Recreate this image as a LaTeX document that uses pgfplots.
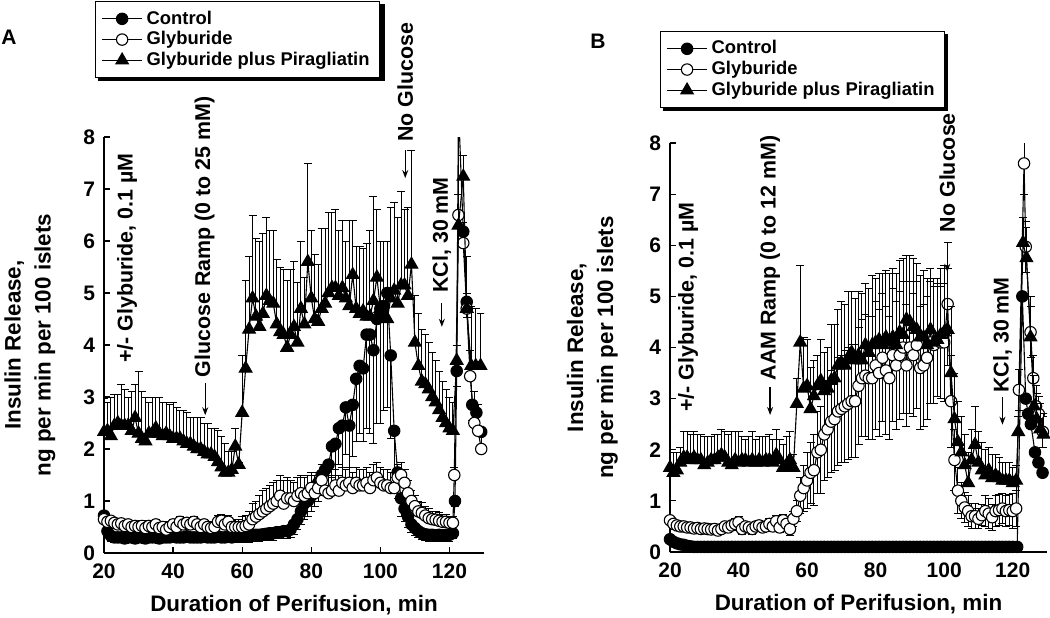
\documentclass[border=0pt]{standalone}
\usepackage{pgfplots}
\pgfplotsset{compat=1.18}
\usepackage{fontspec}
\setmainfont{Liberation Sans}
\usetikzlibrary{arrows.meta}
\newcommand\ftick{\bfseries\fontsize{10.5}{11}\selectfont}
\newcommand\flab{\bfseries\fontsize{11.2}{15}\selectfont}
\newcommand\fann{\bfseries\fontsize{10.7}{12}\selectfont}
\newcommand\fleg{\bfseries\fontsize{9.2}{10.5}\selectfont}
\pgfplotsset{
  myaxis/.style={
    scale only axis, anchor=south west,
    xmin=20, xmax=130, ymin=0, ymax=8,
    axis x line*=bottom, axis y line*=left,
    axis line style={line width=0.7pt},
    tick align=inside, major tick length=3pt,
    tick style={line width=0.6pt, black},
    xtick={20,40,60,80,100,120}, ytick={0,1,2,3,4,5,6,7,8},
    /pgf/number format/assume math mode=true,
    ticklabel style={font=\ftick},
    xticklabel style={yshift=-2pt},
    yticklabel style={xshift=-1pt},
    xlabel={Duration of Perifusion, min},
    xlabel style={font=\flab, at={(axis description cs:0.5,0)}, anchor=center, yshift=-26pt},
    ylabel={Insulin Release,\\ng per min per 100 islets},
    clip mode=individual,
    legend cell align=left,
    legend image code/.code={\draw[mark repeat=2,mark phase=2,##1] plot coordinates {(0pt,0pt) (10pt,0pt) (20pt,0pt)};},
    legend style={draw=black, line width=0.7pt, fill=white, font=\fleg, anchor=north west,
      inner xsep=3pt, inner ysep=2.5pt, row sep=-1.8pt},
  },
  ctrl/.style={black, line width=0.55pt, mark=*, mark size=2.85pt, mark options={solid, fill=black}},
  glyb/.style={black, line width=0.55pt, mark=*, mark size=2.85pt, mark options={solid, fill=white}},
  pira/.style={black, line width=0.55pt, mark=triangle*, mark size=3.6pt, mark options={solid, fill=black}},
  ebar/.style={error bars/y explicit, error bars/y dir=#1,
    error bars/error bar style={line width=0.5pt, black},
    error bars/error mark options={rotate=90, mark size=2pt, line width=0.5pt, black}},
}
\begin{document}
\begin{tikzpicture}[x=1pt,y=1pt]
\useasboundingbox (0,0) rectangle (525,308.5);
% legend shadows (drawn first, behind the legends)
\fill[black] (49.2,268.0) rectangle (192.6,306.4);
\fill[black] (331.6,253.0) rectangle (474.2,291.4);
\node[font=\bfseries\fontsize{10.5}{12}\selectfont] at (4.5,290) {A};
\node[font=\bfseries\fontsize{10.5}{12}\selectfont] at (299,288) {B};
% ================= PANEL A =================
\begin{axis}[myaxis, at={(52pt,32pt)}, width=190pt, height=208pt,
  ylabel style={font=\flab, align=center, at={(axis description cs:-0.195,0.5)}, anchor=center},
  legend style={at={(axis description cs:-0.024,1.327)}}]
\addlegendimage{ctrl}\addlegendentry{Control}
\addlegendimage{glyb}\addlegendentry{Glyburide}
\addlegendimage{pira}\addlegendentry{Glyburide plus Piragliatin}
\addplot[ctrl, forget plot, ebar=minus] table[x=t,y=v,y error=e] {
t v e
20 0.72 0.05
21 0.42 0.1
22 0.33 0.1
23 0.3 0.1
24 0.3 0.1
25 0.3 0.1
26 0.28 0.1
27 0.3 0.1
28 0.3 0.1
29 0.28 0.1
30 0.3 0.1
31 0.3 0.1
32 0.28 0.1
33 0.3 0.1
34 0.3 0.1
35 0.3 0.1
36 0.28 0.1
37 0.3 0.1
38 0.3 0.1
39 0.3 0.1
40 0.32 0.1
41 0.3 0.1
42 0.3 0.1
43 0.3 0.1
44 0.32 0.1
45 0.3 0.1
46 0.3 0.1
47 0.3 0.1
48 0.3 0.1
49 0.32 0.1
50 0.3 0.1
51 0.3 0.1
52 0.3 0.1
53 0.32 0.1
54 0.3 0.1
55 0.3 0.1
56 0.32 0.1
57 0.3 0.1
58 0.32 0.1
59 0.32 0.12
60 0.33 0.12
61 0.33 0.12
62 0.33 0.12
63 0.35 0.12
64 0.35 0.12
65 0.35 0.12
66 0.36 0.12
67 0.37 0.12
68 0.38 0.12
69 0.38 0.13
70 0.4 0.13
71 0.4 0.13
72 0.42 0.14
73 0.42 0.14
74 0.45 0.15
75 0.55 0.2
76 0.65 0.2
77 0.8 0.25
78 0.95 0.3
79 1.0 0.3
80 1.1 0.3
81 1.2 0.3
82 1.35 0.35
83 1.5 0.4
84 1.6 0.45
85 1.7 0.5
86 2.05 0.6
87 2.1 0.6
88 2.4 0.7
89 2.45 0.8
90 2.8 0.9
91 2.45 0.8
92 2.85 1.0
93 3.35 1.2
94 3.6 1.3
95 3.55 1.4
96 4.2 1.8
97 4.2 1.9
98 3.9 1.8
99 4.5 2.0
100 4.7 2.2
101 4.75 2.0
102 5.0 2.2
103 3.8 1.6
104 2.35 0.9
105 1.55 0.5
106 1.05 0.35
107 0.85 0.25
108 0.7 0.2
109 0.55 0.15
110 0.48 0.15
111 0.42 0.12
112 0.38 0.12
113 0.36 0.12
114 0.35 0.12
115 0.35 0.12
116 0.34 0.12
117 0.35 0.12
118 0.34 0.12
119 0.35 0.12
120 0.35 0.12
121 0.38 0.1
121.6 1.0 0.1
122.1 3.5 0.3
122.6 8.6 0.5
124 6.18 0.3
125 4.83 0.3
126.6 2.85 0.3
127.8 2.7 0.3
129.2 2.33 0.3
};
\addplot[glyb, forget plot, ebar=plus] table[x=t,y=v,y error=e] {
t v e
20 0.65 0.08
21 0.6 0.08
22 0.62 0.08
23 0.58 0.08
24 0.55 0.08
25 0.57 0.08
26 0.52 0.08
27 0.55 0.08
28 0.5 0.1
29 0.52 0.08
30 0.5 0.1
31 0.52 0.1
32 0.48 0.1
33 0.52 0.1
34 0.5 0.1
35 0.55 0.1
36 0.48 0.1
37 0.5 0.1
38 0.45 0.1
39 0.5 0.1
40 0.55 0.1
41 0.5 0.1
42 0.6 0.1
43 0.55 0.1
44 0.58 0.1
45 0.55 0.1
46 0.6 0.1
47 0.55 0.1
48 0.5 0.1
49 0.55 0.1
50 0.5 0.1
51 0.48 0.1
52 0.5 0.1
53 0.6 0.12
54 0.62 0.12
55 0.55 0.12
56 0.6 0.12
57 0.5 0.12
58 0.5 0.15
59 0.5 0.15
60 0.5 0.2
61 0.52 0.2
62 0.55 0.25
63 0.65 0.3
64 0.7 0.3
65 0.75 0.35
66 0.8 0.4
67 0.85 0.4
68 0.9 0.4
69 0.95 0.4
70 1.0 0.4
71 1.1 0.4
72 0.95 0.45
73 1.05 0.4
74 1.05 0.35
75 1.0 0.35
76 1.1 0.35
77 1.15 0.35
78 1.1 0.35
79 1.15 0.35
80 1.25 0.3
81 1.15 0.35
82 1.25 0.3
83 1.4 0.3
84 1.2 0.3
85 1.15 0.35
86 1.2 0.3
87 1.3 0.3
88 1.2 0.3
89 1.35 0.3
90 1.3 0.3
91 1.35 0.3
92 1.25 0.3
93 1.35 0.3
94 1.3 0.3
95 1.3 0.3
96 1.35 0.3
97 1.25 0.3
98 1.4 0.3
99 1.45 0.3
100 1.35 0.3
101 1.3 0.3
102 1.3 0.3
103 1.25 0.3
104 1.25 0.3
105 1.45 0.25
106 1.5 0.25
107 1.35 0.25
108 1.15 0.25
109 1.0 0.2
110 0.9 0.2
111 0.8 0.2
112 0.77 0.2
113 0.72 0.18
114 0.67 0.18
115 0.65 0.15
116 0.64 0.15
117 0.62 0.15
118 0.6 0.15
119 0.6 0.15
120 0.58 0.12
121 0.58 0.12
121.4 1.5 0.15
122.6 6.5 1.8
124 5.96 0.4
125 4.7 0.3
126 3.4 0.5
127.2 2.5 0.6
128.3 2.35 0.5
129.2 2.0 0.35
};
\addplot[pira, forget plot, ebar=plus] table[x=t,y=v,y error=e] {
t v e
20 2.33 0.65
21 2.35 0.55
22 2.25 0.75
23 2.45 0.6
24 2.5 0.55
25 2.45 0.8
26 2.45 0.7
27 2.45 0.55
28 2.35 0.75
29 2.6 0.65
30 2.3 1.2
31 2.2 0.9
32 2.15 0.85
33 2.3 0.6
34 2.3 0.7
35 2.4 0.6
36 2.3 0.7
37 2.25 0.65
38 2.3 0.6
39 2.25 0.6
40 2.2 0.7
41 2.2 0.6
42 2.2 0.55
43 2.15 0.6
44 2.1 0.6
45 2.1 0.5
46 2.05 0.55
47 2.0 0.6
48 2.0 0.6
49 1.95 0.55
50 1.9 0.6
51 1.9 0.5
52 1.85 0.55
53 1.75 0.6
54 1.65 0.6
55 1.55 0.55
56 1.55 0.4
57 1.6 0.35
58 2.05 0.35
59 1.7 0.05
60 2.7 1.1
61 3.55 1.7
62 4.3 1.4
63 4.9 1.6
64 4.55 1.5
65 4.35 1.65
66 4.6 1.55
67 4.95 1.5
68 4.85 1.35
69 4.8 1.4
70 4.4 1.25
71 4.25 1.25
72 4.2 1.25
73 3.95 1.3
74 4.2 1.25
75 4.35 1.25
76 4.05 1.15
77 4.7 1.3
78 4.4 0.9
79 5.6 1.9
80 4.9 1.3
81 4.5 1.25
82 4.45 1.1
83 4.7 1.55
84 4.8 1.45
85 5.0 1.55
86 5.1 1.45
87 5.1 1.5
88 4.95 1.25
89 5.1 1.3
90 4.9 1.1
91 4.75 1.65
92 5.35 1.05
93 4.7 1.2
94 4.6 1.3
95 4.65 1.2
96 4.55 1.4
97 4.55 1.65
98 4.85 2.0
99 5.3 1.3
100 4.7 1.3
101 4.55 1.45
102 4.5 1.5
103 4.9 1.75
104 5.05 1.7
105 4.8 1.65
106 5.15 1.8
107 5.15 1.45
108 4.95 1.7
109 5.55 2.2
110 4.05 0.9
111 3.6 1.0
112 3.3 1.0
113 3.25 0.95
114 3.15 0.9
115 3.0 0.85
116 2.9 0.8
117 2.75 0.75
118 2.6 0.7
119 2.5 0.65
120 2.4 0.6
121 2.35 0.55
122.1 3.7 0.3
122.6 6.3 0.6
124 7.24 0.4
125 4.7 1.0
126.3 3.6 1.15
127.6 3.6 1.1
129 3.6 1.0
};
% annotations
\node[rotate=90, anchor=west, font=\fann, inner sep=0pt] at (axis cs:26.7,3.65) {+/- Glyburide, 0.1 µM};
\draw[-{Stealth[length=4pt,width=3pt]}, line width=0.6pt] (axis cs:49.3,3.27) -- (axis cs:49.3,2.65);
\node[rotate=90, anchor=west, font=\fann, inner sep=0pt] at (axis cs:49.1,3.37) {Glucose Ramp (0 to 25 mM)};
\draw[-{Stealth[length=4pt,width=3pt]}, line width=0.6pt] (axis cs:107.2,7.75) -- (axis cs:107.2,7.21);
\node[rotate=90, anchor=west, font=\fann, inner sep=0pt] at (axis cs:107.2,7.9) {No Glucose};
\draw[-{Stealth[length=4pt,width=3pt]}, line width=0.6pt] (axis cs:117.8,4.8) -- (axis cs:117.8,4.35);
\node[rotate=90, anchor=west, font=\fann, inner sep=0pt] at (axis cs:117.8,5.0) {KCl, 30 mM};
\end{axis}
% ================= PANEL B =================
\begin{axis}[myaxis, at={(335pt,32.5pt)}, width=188.5pt, height=204.5pt,
  ylabel style={font=\flab, align=center, at={(axis description cs:-0.206,0.5)}, anchor=center},
  legend style={at={(axis description cs:-0.027,1.274)}}]
\addlegendimage{ctrl}\addlegendentry{Control}
\addlegendimage{glyb}\addlegendentry{Glyburide}
\addlegendimage{pira}\addlegendentry{Glyburide plus Piragliatin}
\addplot[ctrl, forget plot] coordinates {
(20,0.25)(21,0.2)(22,0.17)(23,0.15)(24,0.14)(25,0.12)(26,0.11)(27,0.1)(28,0.1)(29,0.1)
(30,0.1)(31,0.1)(32,0.1)(33,0.1)(34,0.1)(35,0.1)(36,0.1)(37,0.1)(38,0.1)(39,0.1)
(40,0.1)(41,0.1)(42,0.1)(43,0.1)(44,0.1)(45,0.1)(46,0.1)(47,0.1)(48,0.1)(49,0.1)
(50,0.1)(51,0.1)(52,0.1)(53,0.1)(54,0.1)(55,0.1)(56,0.1)(57,0.1)(58,0.1)(59,0.1)
(60,0.1)(61,0.1)(62,0.1)(63,0.1)(64,0.1)(65,0.1)(66,0.1)(67,0.1)(68,0.1)(69,0.1)
(70,0.1)(71,0.1)(72,0.1)(73,0.1)(74,0.1)(75,0.1)(76,0.1)(77,0.1)(78,0.1)(79,0.1)
(80,0.1)(81,0.1)(82,0.1)(83,0.1)(84,0.1)(85,0.1)(86,0.1)(87,0.1)(88,0.1)(89,0.1)
(90,0.1)(91,0.1)(92,0.1)(93,0.1)(94,0.1)(95,0.1)(96,0.1)(97,0.1)(98,0.1)(99,0.1)
(100,0.1)(101,0.1)(102,0.1)(103,0.1)(104,0.1)(105,0.1)(106,0.1)(107,0.1)(108,0.1)(109,0.1)
(110,0.1)(111,0.1)(112,0.1)(113,0.1)(114,0.1)(115,0.1)(116,0.1)(117,0.1)(118,0.1)(119,0.1)
(120,0.1)(121.3,0.1)(122.8,5.0)(123.8,3.0)(124.5,2.7)(125.3,2.5)(126.5,1.95)(127.5,1.75)(128.7,1.55)
};
\addplot[glyb, forget plot, ebar=both] table[x=t,y=v,y error=e] {
t v e
20 0.62 0.08
21 0.55 0.08
22 0.52 0.08
23 0.5 0.08
24 0.5 0.08
25 0.48 0.08
26 0.48 0.08
27 0.46 0.08
28 0.47 0.08
29 0.45 0.08
30 0.46 0.08
31 0.45 0.08
32 0.44 0.08
33 0.45 0.08
34 0.42 0.08
35 0.45 0.08
36 0.5 0.08
37 0.48 0.1
38 0.52 0.1
39 0.55 0.1
40 0.58 0.12
41 0.45 0.1
42 0.5 0.1
43 0.48 0.1
44 0.45 0.1
45 0.5 0.1
46 0.52 0.1
47 0.48 0.1
48 0.5 0.1
49 0.55 0.1
50 0.5 0.1
51 0.6 0.12
52 0.48 0.1
53 0.62 0.12
54 0.55 0.12
55 0.45 0.12
56 0.65 0.15
57 0.8 0.2
58 1.1 0.35
59 1.25 0.45
60 1.4 0.55
61 1.55 0.6
62 1.6 0.7
63 1.95 0.8
64 2.0 0.85
65 2.3 0.9
66 2.4 0.95
67 2.55 1.0
68 2.6 1.0
69 2.75 1.05
70 2.8 1.05
71 2.85 1.1
72 2.9 1.1
73 2.95 1.1
74 2.95 1.1
75 3.25 1.15
76 3.4 1.15
77 3.45 1.2
78 3.4 1.2
79 3.4 1.2
80 3.65 1.25
81 3.5 1.25
82 3.8 1.25
83 3.55 1.25
84 3.4 1.2
85 3.85 1.3
86 3.65 1.25
87 3.85 1.25
88 4.0 1.3
89 3.65 1.2
90 4.0 1.3
91 3.85 1.2
92 4.05 1.25
93 3.6 1.2
94 3.65 1.2
95 3.8 1.2
96 4.1 1.2
97 4.05 1.15
98 4.15 1.1
99 4.1 1.1
100 4.1 1.15
101 4.85 1.2
102 2.95 0.9
103 1.8 0.6
104 1.2 0.45
105 1.0 0.35
106 0.87 0.3
107 0.8 0.3
108 0.7 0.25
109 0.7 0.25
110 0.65 0.2
111 0.72 0.2
112 0.8 0.3
113 0.75 0.3
114 0.68 0.25
115 0.8 0.3
116 0.82 0.3
117 0.85 0.3
118 0.8 0.3
119 0.82 0.3
120 0.8 0.35
121 0.85 0.35
121.8 3.17 0.4
123.3 7.6 0.6
123.8 5.97 0.5
125.2 4.3 0.5
126 3.4 0.45
126.8 2.85 0.4
127.6 2.7 0.35
128.8 2.35 0.3
};
\addplot[pira, forget plot, ebar=plus] table[x=t,y=v,y error=e] {
t v e
20 1.65 0.3
21 1.55 0.4
22 1.6 0.35
23 1.75 0.3
24 1.85 0.5
25 1.85 0.5
26 1.8 0.5
27 1.85 0.5
28 1.8 0.5
29 1.8 0.5
30 1.7 0.55
31 1.75 0.5
32 1.8 0.45
33 1.8 0.5
34 1.85 0.45
35 1.9 0.5
36 1.85 0.5
37 1.75 0.55
38 1.7 0.65
39 1.8 0.55
40 1.75 0.6
41 1.8 0.45
42 1.8 0.4
43 1.75 0.5
44 1.8 0.55
45 1.75 0.45
46 1.8 0.45
47 1.75 0.5
48 1.8 0.45
49 1.8 0.5
50 1.75 0.45
51 1.9 0.5
52 1.8 0.4
53 1.65 0.45
54 1.7 0.55
55 1.8 0.55
56 1.65 0.25
57 2.9 0.5
58 4.1 1.5
59 3.2 1.0
60 3.25 0.9
61 2.8 0.8
62 3.05 0.7
63 3.25 0.6
64 3.35 0.8
65 3.15 0.75
66 3.2 0.8
67 3.35 1.1
68 3.4 1.05
69 3.65 1.1
70 3.7 1.2
71 3.65 1.2
72 3.8 1.3
73 3.9 1.2
74 3.75 1.2
75 3.85 1.25
76 3.75 1.3
77 4.05 1.2
78 3.9 1.25
79 4.05 1.35
80 4.1 1.25
81 4.15 1.3
82 4.05 1.4
83 4.2 1.3
84 4.1 1.35
85 4.2 1.35
86 4.05 1.4
87 4.3 1.4
88 4.25 1.5
89 4.55 1.25
90 4.5 1.3
91 4.4 1.35
92 4.35 1.3
93 4.2 1.2
94 4.2 1.3
95 4.05 1.3
96 4.35 1.2
97 4.1 1.25
98 4.15 1.2
99 4.25 1.3
100 4.3 1.3
101 4.35 1.2
102 3.5 1.3
103 2.6 0.9
104 2.15 0.8
105 1.95 0.7
106 1.7 0.6
107 1.35 0.6
108 1.8 0.6
109 2.1 0.75
110 1.75 0.6
111 1.6 0.55
112 1.5 0.5
113 1.6 0.45
114 1.45 0.45
115 1.5 0.4
116 1.45 0.4
117 1.4 0.35
118 1.4 0.35
119 1.4 0.35
120 1.35 0.3
121 1.4 0.3
121.6 2.35 0.3
123 6.05 0.5
124 5.75 0.6
125.2 4.2 0.8
126.2 2.85 0.6
127 2.6 0.5
128 2.4 0.5
129 2.3 0.4
};
\node[rotate=90, anchor=west, font=\fann, inner sep=0pt] at (axis cs:25.3,2.74) {+/- Glyburide, 0.1 µM};
\draw[-{Stealth[length=4pt,width=3pt]}, line width=0.6pt] (axis cs:49.2,3.23) -- (axis cs:49.2,2.68);
\node[rotate=90, anchor=west, font=\fann, inner sep=0pt] at (axis cs:49.2,3.35) {AAM Ramp (0 to 12 mM)};
\draw[-{Stealth[length=4pt,width=3pt]}, line width=0.6pt] (axis cs:100.9,6.0) -- (axis cs:100.9,5.48);
\node[rotate=90, anchor=west, font=\fann, inner sep=0pt] at (axis cs:100.9,6.25) {No Glucose};
\draw[-{Stealth[length=4pt,width=3pt]}, line width=0.6pt] (axis cs:117,3.03) -- (axis cs:117,2.49);
\node[rotate=90, anchor=west, font=\fann, inner sep=0pt] at (axis cs:117,3.11) {KCl, 30 mM};
\end{axis}
\end{tikzpicture}
\end{document}
